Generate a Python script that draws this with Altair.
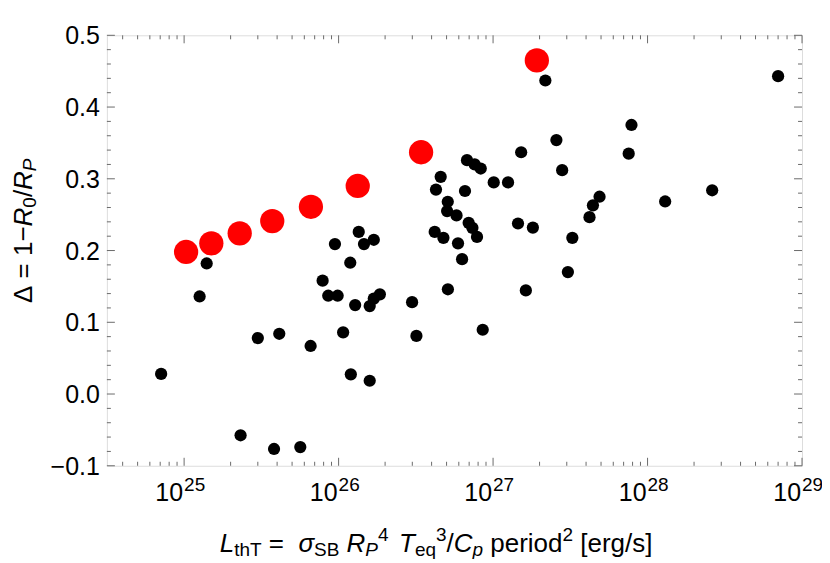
import altair as alt
import pandas as pd

# ---------------- data ----------------
black_x = [1.40e25, 1.26e25, 9.47e25, 1.35e26, 1.46e26, 1.19e26, 7.88e25, 8.57e25,
           9.86e25, 1.28e26, 1.69e26, 7.1e24, 3.0e25, 4.13e25, 6.59e25, 2.32e25,
           3.82e25, 5.65e25, 1.07e26, 1.20e26, 1.59e26, 1.59e26, 1.69e26, 1.85e26,
           2.99e26, 3.19e26, 5.1e26, 8.57e26, 1.63e27, 3.05e27, 6.78e26, 7.6e26,
           8.32e26, 4.58e26, 4.27e26, 6.58e26, 1.01e27, 1.25e27, 1.52e27, 2.57e27,
           2.8e27, 5.09e26, 5.04e26, 5.8e26, 6.95e26, 7.35e26, 7.87e26, 4.19e26,
           4.77e26, 5.93e26, 6.3e26, 1.45e27, 1.81e27, 2.18e27, 7.0e28, 7.87e27,
           7.55e27, 4.89e27, 4.43e27, 4.21e27, 3.26e27, 1.30e28, 2.62e28]
black_y = [0.182, 0.136, 0.209, 0.226, 0.209, 0.183, 0.158, 0.137,
           0.137, 0.124, 0.215, 0.028, 0.078, 0.084, 0.067, -0.0575,
           -0.0766, -0.074, 0.086, 0.0274, 0.0185, 0.1226, 0.133, 0.139,
           0.128, 0.081, 0.146, 0.0896, 0.1444, 0.170, 0.326, 0.320,
           0.3143, 0.3027, 0.285, 0.283, 0.295, 0.295, 0.337, 0.354,
           0.312, 0.268, 0.255, 0.249, 0.2386, 0.2316, 0.219, 0.226,
           0.2177, 0.210, 0.188, 0.2377, 0.232, 0.437, 0.443, 0.375,
           0.335, 0.275, 0.263, 0.2465, 0.2177, 0.2684, 0.284]

red_x = [1.03e25, 1.5e25, 2.29e25, 3.72e25, 6.62e25, 1.33e26, 3.42e26, 1.92e27]
red_y = [0.198, 0.210, 0.224, 0.241, 0.261, 0.290, 0.337, 0.465]

# axis ticks and tick labels
x_decades = [25, 26, 27, 28, 29]
x_exp_labels = ["25", "26", "27", "28", "29"]
x_minor_mult = [2, 3, 4, 5, 6, 7, 8, 9]
x_minor_decades = [24, 25, 26, 27, 28]
y_major = [-0.1, 0.0, 0.1, 0.2, 0.3, 0.4, 0.5]
y_labels = ["\u22120.1", "0.0", "0.1", "0.2", "0.3", "0.4", "0.5"]
y_minor = [-0.08, -0.06, -0.04, -0.02, 0.02, 0.04, 0.06, 0.08,
           0.12, 0.14, 0.16, 0.18, 0.22, 0.24, 0.26, 0.28,
           0.32, 0.34, 0.36, 0.38, 0.42, 0.44, 0.46, 0.48]

XMIN, XMAX = 10 ** 24.5, 1e29
W, H = 696, 431

black_df = pd.DataFrame({"x": black_x, "y": black_y})
red_df = pd.DataFrame({"x": red_x, "y": red_y})
xmaj_df = pd.DataFrame({"x": [10.0 ** d for d in x_decades], "e": x_exp_labels, "b": ["10"] * len(x_decades)})
xmin_vals = [m * 10.0 ** d for d in x_minor_decades for m in x_minor_mult]
xmin_df = pd.DataFrame({"x": [v for v in xmin_vals if XMIN < v < XMAX]})
ymaj_df = pd.DataFrame({"y": y_major, "lab": y_labels})
ymin_df = pd.DataFrame({"y": y_minor})

xs = alt.Scale(type="log", domain=[XMIN, XMAX], nice=False)
ys = alt.Scale(domain=[-0.1, 0.5], nice=False, zero=False)

FONT = "Liberation Sans"
FRAME = "#6a6a6a"
LABEL, MAIN, SCRIPT = 25, 26, 19

# ---------------- rich-text title layout (Arial/Liberation metrics) ----------------
ADV = {' ': 278, '=': 584, '/': 278, '[': 278, ']': 278, '0': 556, '1': 556, '2': 556,
       '3': 556, '4': 556, 'L': 556, 'T': 611, 'S': 667, 'B': 667, 'R': 722, 'P': 667,
       'C': 722, 't': 278, 'h': 556, 'e': 556, 'q': 556, 'p': 556, 'r': 333, 'i': 222,
       'o': 556, 'd': 556, 'g': 556, 's': 500, 'σ': 600, 'Δ': 668, '−': 584}


def width(txt, size):
    return sum(ADV.get(c, 556) for c in txt) * size / 1000.0


ROLE = {"main": (MAIN, 0), "sub": (SCRIPT, 4), "sup": (SCRIPT, -11)}


def layout(segs):
    rows, cur = [], 0.0
    for txt, role, it in segs:
        size, shift = ROLE[role]
        lead = len(txt) - len(txt.lstrip(' '))
        rows.append({"text": txt.strip(), "off": cur + width(' ' * lead, size),
                     "shift": shift, "size": size, "it": it})
        cur += width(txt, size)
    return rows


x_title_segs = [("L", "main", True), ("thT", "sub", False), (" =  ", "main", False),
                ("σ", "main", True), ("SB", "sub", False), (" ", "main", False),
                ("R", "main", True), ("P", "sub", True), ("4", "sup", False),
                ("  ", "sub", False), ("T", "main", True), ("eq", "sub", False),
                ("3", "sup", False), ("/", "main", False), ("C", "main", True),
                ("p", "sub", True), (" period", "main", False), ("2", "sup", False),
                (" [erg/s]", "main", False)]
y_title_segs = [("Δ", "main", False), (" = ", "main", False), ("1", "main", False),
                ("−", "main", False), ("R", "main", True), ("0", "sub", False),
                ("/", "main", False), ("R", "main", True), ("P", "sub", True)]

XT_X0, XT_BASE = 113, 517     # view coords of the x title start / baseline
YT_Y0, YT_BASE = 268, -75     # view coords of the y title start (bottom) / baseline

xt = pd.DataFrame([{**r, "px": XT_X0 + r["off"], "py": XT_BASE + r["shift"]} for r in layout(x_title_segs)])
yt = pd.DataFrame([{**r, "px": YT_BASE + r["shift"], "py": YT_Y0 - r["off"]} for r in layout(y_title_segs)])

# ---------------- layers ----------------
red = alt.Chart(red_df).mark_circle(size=590, color="#ff0000", opacity=1).encode(
    x=alt.X("x:Q", scale=xs, axis=None), y=alt.Y("y:Q", scale=ys, axis=None))

black = alt.Chart(black_df).mark_circle(size=150, color="#000000", opacity=1).encode(
    x=alt.X("x:Q", scale=xs, axis=None), y=alt.Y("y:Q", scale=ys, axis=None))


def xticks(df, y0, y1):
    return alt.Chart(df).mark_rule(color=FRAME, strokeWidth=1).encode(
        x=alt.X("x:Q", scale=xs, axis=None), y=alt.value(y0), y2=alt.value(y1))


def yticks(df, x0, x1):
    return alt.Chart(df).mark_rule(color=FRAME, strokeWidth=1).encode(
        y=alt.Y("y:Q", scale=ys, axis=None), x=alt.value(x0), x2=alt.value(x1))


ticks = [xticks(xmaj_df, H, H - 8), xticks(xmin_df, H, H - 4),
         xticks(xmaj_df, 0, 8), xticks(xmin_df, 0, 4),
         yticks(ymaj_df, 0, 8), yticks(ymin_df, 0, 4),
         yticks(ymaj_df, W, W - 8), yticks(ymin_df, W, W - 4)]

xlab_base = alt.Chart(xmaj_df).mark_text(align="right", baseline="alphabetic", fontSize=LABEL, font=FONT,
                                         color="black", dx=-1).encode(
    x=alt.X("x:Q", scale=xs, axis=None), y=alt.value(466), text="b:N")
xlab_exp = alt.Chart(xmaj_df).mark_text(align="left", baseline="alphabetic", fontSize=SCRIPT, font=FONT,
                                        color="black", dx=0).encode(
    x=alt.X("x:Q", scale=xs, axis=None), y=alt.value(456), text="e:N")
ylab = alt.Chart(ymaj_df).mark_text(align="right", baseline="alphabetic", fontSize=LABEL, font=FONT,
                                    color="black", dy=9).encode(
    y=alt.Y("y:Q", scale=ys, axis=None), x=alt.value(-7), text="lab:N")


def title_layer(df, italic, angle):
    sub = df[df["it"] == italic]
    mk = dict(align="left", baseline="alphabetic", font=FONT, color="black")
    if italic:
        mk["fontStyle"] = "italic"
    if angle:
        mk["angle"] = angle
    return alt.Chart(sub).mark_text(**mk).encode(
        x=alt.X("px:Q", scale=None, axis=None), y=alt.Y("py:Q", scale=None, axis=None),
        size=alt.Size("size:Q", scale=None, legend=None), text="text:N")


titles = [title_layer(xt, False, 0), title_layer(xt, True, 0),
          title_layer(yt, False, 270), title_layer(yt, True, 270)]

chart = alt.layer(red, black, *ticks, xlab_base, xlab_exp, ylab, *titles).properties(
    width=W, height=H,
    autosize=alt.AutoSizeParams(type="none"),
    padding={"left": 99, "top": 27, "right": 20, "bottom": 93},
).configure_view(stroke=FRAME, strokeWidth=1).configure(background="white")

chart.save("out.html", embed_options={"renderer": "svg", "actions": False})
